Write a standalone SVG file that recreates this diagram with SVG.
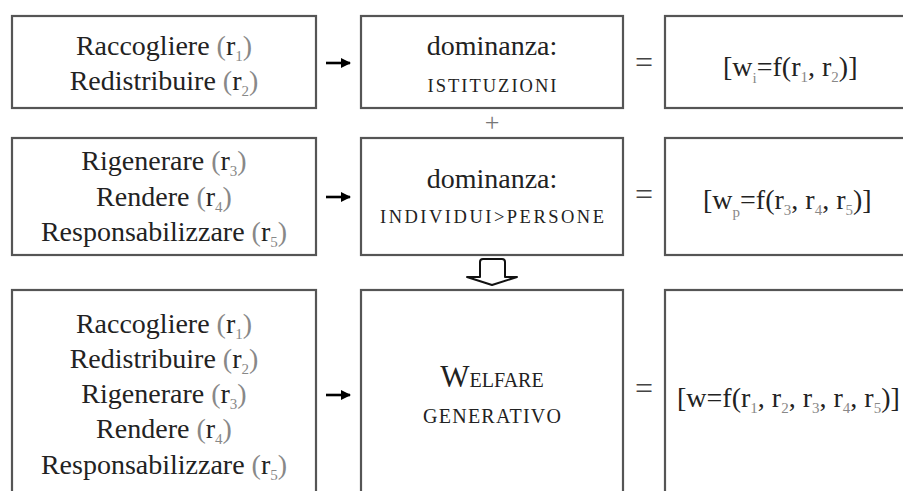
<svg xmlns="http://www.w3.org/2000/svg" width="903" height="491" viewBox="0 0 903 491">
<style>
text{font-family:'Liberation Serif','DejaVu Serif',serif}
.box{fill:#fff;stroke:#555;stroke-width:2.2}
.t{font-size:28px;fill:#222;text-anchor:middle}
.f{font-size:28px;fill:#222}
.sc{font-size:18.5px;fill:#222;text-anchor:middle}
.g{fill:#888}
.s{font-size:15px;fill:#888}
.eq{font-size:32px;fill:#444;text-anchor:middle}
.conn{stroke:#000;stroke-width:2.6;fill:none}
.block{stroke:#111;stroke-width:2;fill:#fff;stroke-linejoin:round}
</style>
<defs>
<marker id="ah" viewBox="0 0 10 10" refX="9" refY="5" markerWidth="4" markerHeight="4.5" orient="auto" markerUnits="strokeWidth">
<path d="M0,0 L10,5 L0,10 z" fill="#000"/>
</marker>
</defs>
<rect width="903" height="491" fill="#fff"/>

<g id="connectors">
<line class="conn" x1="326" y1="63" x2="350" y2="63" marker-end="url(#ah)"/>
<line class="conn" x1="326" y1="197" x2="350" y2="197" marker-end="url(#ah)"/>
<line class="conn" x1="326" y1="395" x2="350" y2="395" marker-end="url(#ah)"/>
<path class="block" d="M480,277 L480,262 Q480,259 483,259 L502,259 Q505,259 505,262 L505,277 L517,277 L492,285 L467,277 Z"/>
</g>

<g id="row1-actions">
<rect class="box" x="12" y="16" width="304" height="92"/>
<text class="t" x="164" y="55">Raccogliere <tspan class="g">(</tspan>r<tspan class="s" dy="6">1</tspan><tspan class="g" dy="-6">)</tspan></text>
<text class="t" x="164" y="90">Redistribuire <tspan class="g">(</tspan>r<tspan class="s" dy="6">2</tspan><tspan class="g" dy="-6">)</tspan></text>
</g>
<g id="row1-dominanza">
<rect class="box" x="361" y="16" width="262" height="92"/>
<text class="t" x="492" y="55">dominanza:</text>
<text class="sc" x="492" y="92" textLength="129" lengthAdjust="spacing">ISTITUZIONI</text>
</g>
<text class="eq" x="644" y="73">=</text>
<g id="row1-formula">
<rect class="box" x="665" y="16" width="260" height="92"/>
<text class="f" x="723" y="76">[w<tspan class="s" dy="7">i</tspan><tspan dy="-7">=f(r</tspan><tspan class="s" dy="6">1</tspan><tspan dy="-6">, r</tspan><tspan class="s" dy="6">2</tspan><tspan dy="-6">)]</tspan></text>
</g>

<text class="eq" x="492" y="131" style="fill:#777;font-size:26px">+</text>

<g id="row2-actions">
<rect class="box" x="12" y="138" width="304" height="117"/>
<text class="t" x="164" y="170">Rigenerare <tspan class="g">(</tspan>r<tspan class="s" dy="6">3</tspan><tspan class="g" dy="-6">)</tspan></text>
<text class="t" x="164" y="205.5">Rendere <tspan class="g">(</tspan>r<tspan class="s" dy="6">4</tspan><tspan class="g" dy="-6">)</tspan></text>
<text class="t" x="164" y="241">Responsabilizzare <tspan class="g">(</tspan>r<tspan class="s" dy="6">5</tspan><tspan class="g" dy="-6">)</tspan></text>
</g>
<g id="row2-dominanza">
<rect class="box" x="361" y="138" width="262" height="117"/>
<text class="t" x="492" y="188">dominanza:</text>
<text class="sc" x="492" y="223" textLength="224" lengthAdjust="spacing">INDIVIDUI&gt;PERSONE</text>
</g>
<text class="eq" x="644" y="205">=</text>
<g id="row2-formula">
<rect class="box" x="665" y="138" width="260" height="117"/>
<text class="f" x="703" y="209">[w<tspan class="s" dy="8">p</tspan><tspan dy="-8">=f(r</tspan><tspan class="s" dy="6">3</tspan><tspan dy="-6">, r</tspan><tspan class="s" dy="6">4</tspan><tspan dy="-6">, r</tspan><tspan class="s" dy="6">5</tspan><tspan dy="-6">)]</tspan></text>
</g>

<g id="row3-actions">
<rect class="box" x="12" y="290" width="304" height="220"/>
<text class="t" x="164" y="333">Raccogliere <tspan class="g">(</tspan>r<tspan class="s" dy="6">1</tspan><tspan class="g" dy="-6">)</tspan></text>
<text class="t" x="164" y="368">Redistribuire <tspan class="g">(</tspan>r<tspan class="s" dy="6">2</tspan><tspan class="g" dy="-6">)</tspan></text>
<text class="t" x="164" y="403">Rigenerare <tspan class="g">(</tspan>r<tspan class="s" dy="6">3</tspan><tspan class="g" dy="-6">)</tspan></text>
<text class="t" x="164" y="438">Rendere <tspan class="g">(</tspan>r<tspan class="s" dy="6">4</tspan><tspan class="g" dy="-6">)</tspan></text>
<text class="t" x="164" y="474">Responsabilizzare <tspan class="g">(</tspan>r<tspan class="s" dy="6">5</tspan><tspan class="g" dy="-6">)</tspan></text>
</g>
<g id="row3-welfare">
<rect class="box" x="361" y="290" width="262" height="220"/>
<text class="sc" x="492" y="387" style="font-size:20px"><tspan style="font-size:31px">W</tspan>ELFARE</text>
<text class="sc" x="492" y="423" style="font-size:20px" textLength="138" lengthAdjust="spacing">GENERATIVO</text>
</g>
<text class="eq" x="644" y="399">=</text>
<g id="row3-formula">
<rect class="box" x="665" y="290" width="260" height="220"/>
<text class="f" x="677" y="407">[w=f(r<tspan class="s" dy="6">1</tspan><tspan dy="-6">, r</tspan><tspan class="s" dy="6">2</tspan><tspan dy="-6">, r</tspan><tspan class="s" dy="6">3</tspan><tspan dy="-6">, r</tspan><tspan class="s" dy="6">4</tspan><tspan dy="-6">, r</tspan><tspan class="s" dy="6">5</tspan><tspan dy="-6">)]</tspan></text>
</g>
</svg>
